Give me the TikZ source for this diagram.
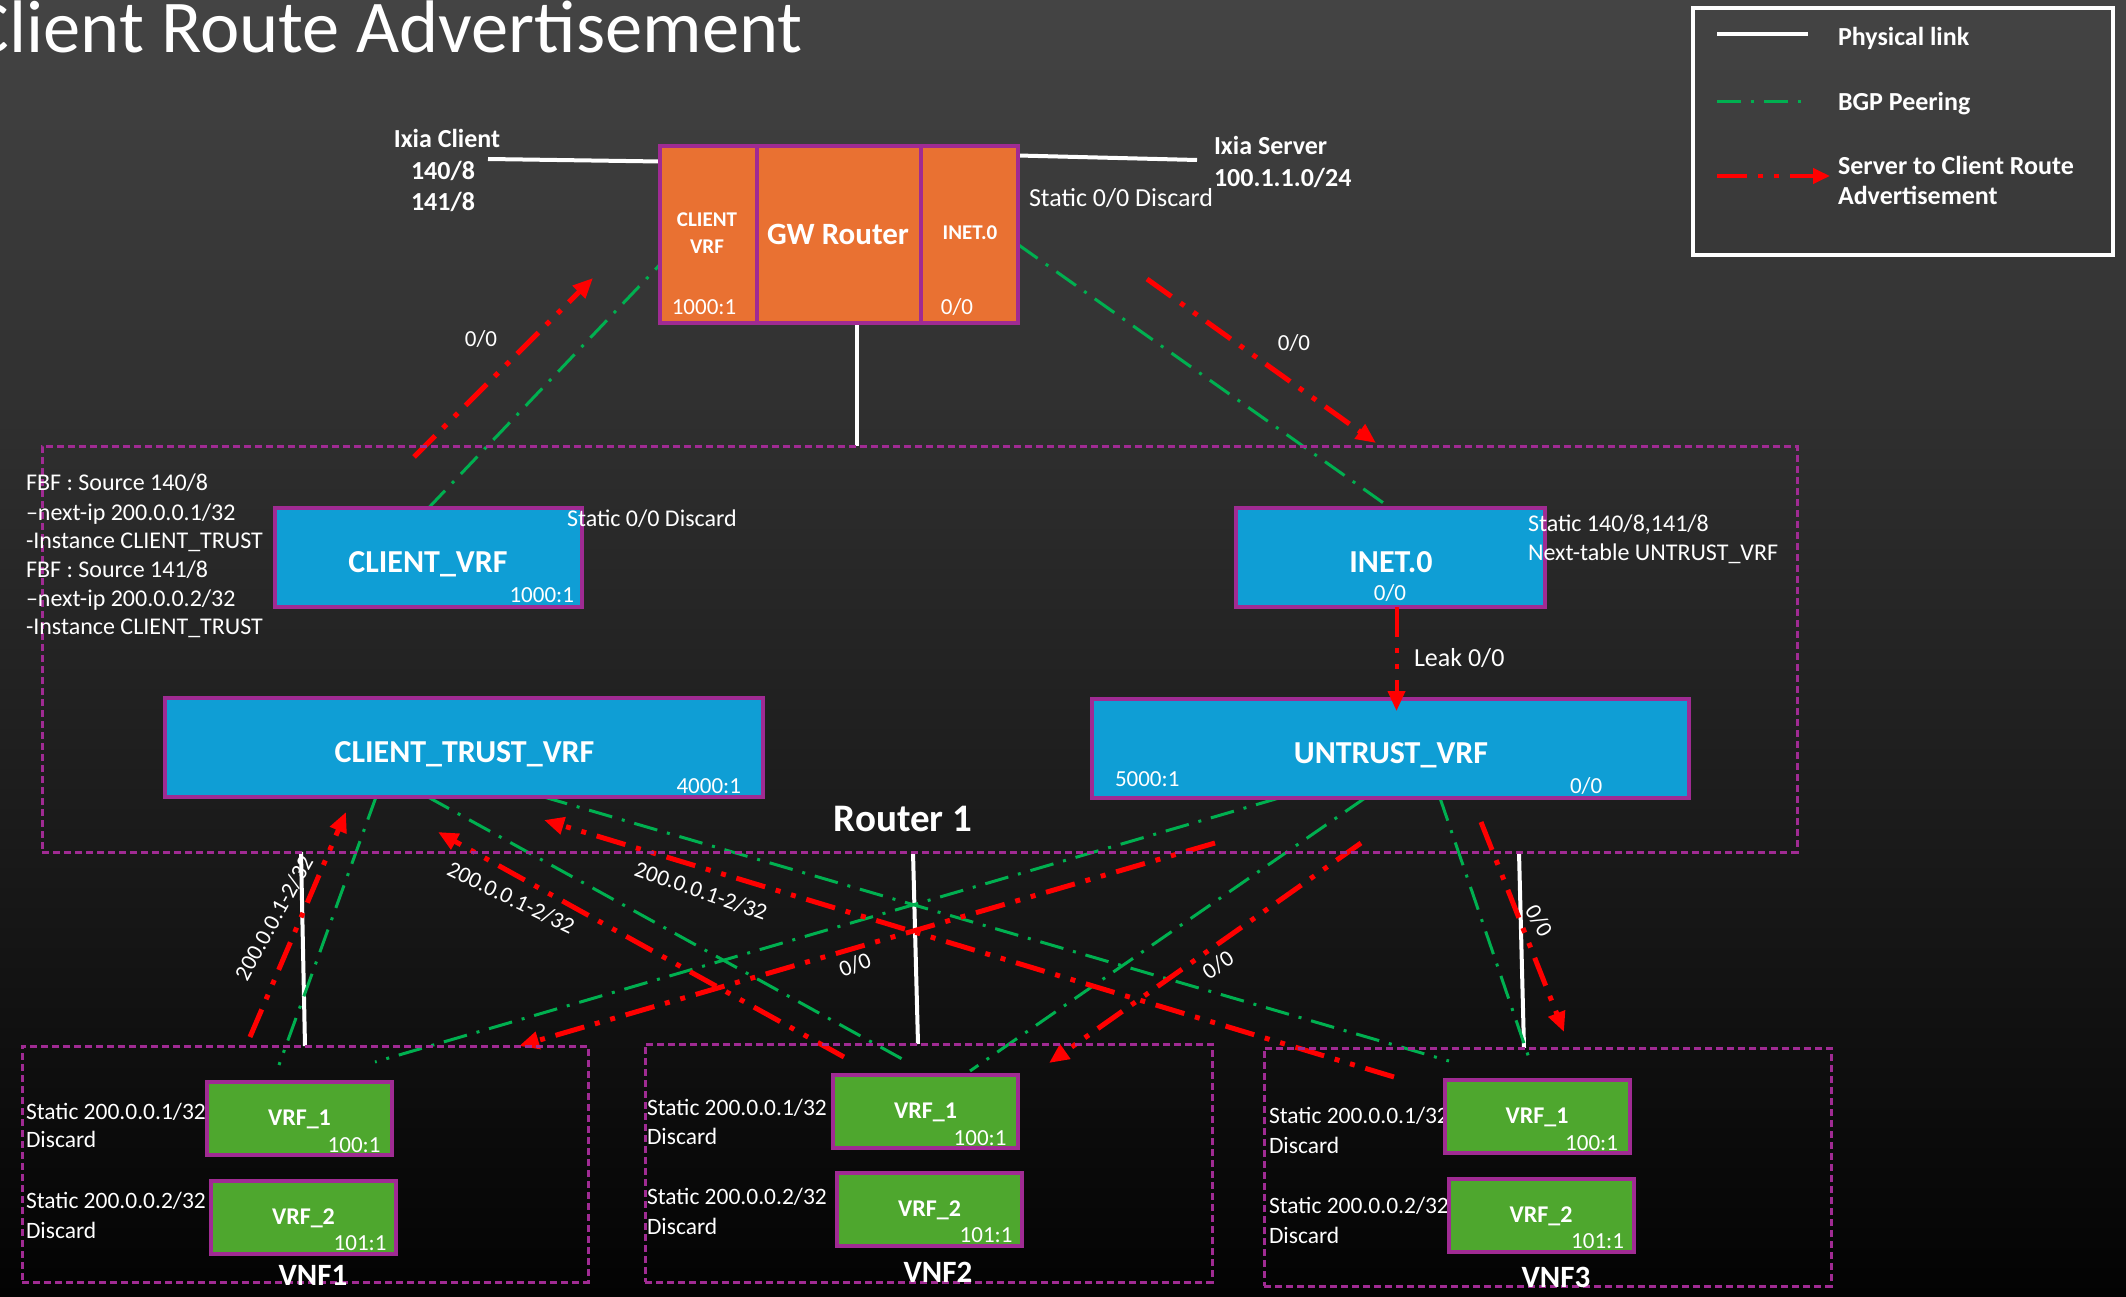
\documentclass[tikz,border=0pt]{standalone}
\usepackage{fontspec}
\setmainfont{Carlito}
\usetikzlibrary{arrows.meta}
\definecolor{gworange}{HTML}{E97132}
\definecolor{vrfblue}{HTML}{0F9ED5}
\definecolor{vnfgreen}{HTML}{4EA72E}
\definecolor{rimpurple}{HTML}{A02B93}
\definecolor{bgpgreen}{HTML}{00B050}
\definecolor{bgtop}{RGB}{68,68,68}
\definecolor{bgbottom}{RGB}{3,3,3}
\newcommand\fsz[2]{\fontsize{#1}{#2}\selectfont}
\pgfdeclarelayer{backdrop}
\pgfdeclarelayer{links}
\pgfsetlayers{backdrop,links,main}
\tikzset{
  txt/.style={text=white, inner sep=0pt, outer sep=0pt, font=\fsz{23}{28}},
  boldtxt/.style={txt, font=\bfseries\fsz{26}{31}},
  cell/.style={draw=rimpurple, line width=4pt, inner sep=0pt, outer sep=0pt},
  gwcell/.style={cell, fill=gworange, minimum height=177pt},
  vrfbox/.style={cell, fill=vrfblue, minimum height=99pt},
  vnfbox/.style={cell, fill=vnfgreen, minimum width=185pt, minimum height=73pt},
  zone/.style={draw=rimpurple, line width=3pt, dash pattern=on 7pt off 4pt, inner sep=0pt, outer sep=0pt},
  phys/.style={draw=white, line width=4pt},
  bgp/.style={draw=bgpgreen, line width=3pt, dash pattern=on 24pt off 10pt on 3pt off 10pt},
  adv/.style={draw=red, line width=5pt, dash pattern=on 30pt off 11pt on 5pt off 11pt on 5pt off 11pt, -{Triangle[length=20pt,width=17pt]}},
  boxname/.style={txt, font=\bfseries\fsz{32}{38}},
  vrfname/.style={txt, font=\bfseries\fsz{24}{28}},
  vnfname/.style={txt, font=\bfseries\fsz{31}{36}},
  rd/.style={txt, font=\fsz{23}{28}},
  note/.style={txt, font=\fsz{23.5}{28}, anchor=base west},
}
\begin{document}
\begin{tikzpicture}[x=1pt,y=-1pt]
\useasboundingbox (0,0) rectangle (2126,1297);
\begin{pgfonlayer}{backdrop}
  \shade[top color=bgtop, bottom color=bgbottom] (0,0) rectangle (2126,1297);
\end{pgfonlayer}

% ---------- title ----------
\node[txt, font=\fsz{74.5}{80}, anchor=base west] (title) at (-30,53) {Client Route Advertisement};

% ---------- legend ----------
\node[draw=white, line width=4pt, minimum width=420pt, minimum height=247pt, inner sep=0pt] (legend) at (1903,131.5) {};
\coordinate (legA1) at (1717,34);  \coordinate (legA2) at (1808,34);
\coordinate (legB1) at (1717,102); \coordinate (legB2) at (1808,102);
\coordinate (legC1) at (1717,176); \coordinate (legC2) at (1830,176);
\draw[phys] (legA1) -- (legA2);
\draw[bgp] (legB1) -- (legB2);
\draw[adv, line width=4pt, -{Triangle[length=17pt,width=15pt]}] (legC1) -- (legC2);
\node[boldtxt, anchor=base west] (legAtxt) at (1838,46) {Physical link};
\node[boldtxt, anchor=base west] (legBtxt) at (1838,111) {BGP Peering};
\node[boldtxt, anchor=base west] (legCtxt1) at (1838,175) {Server to Client Route};
\node[boldtxt, anchor=base west] (legCtxt2) at (1838,205) {Advertisement};

% ---------- GW router ----------
\node[gwcell, minimum width=97pt] (gwclient) at (708.5,234.5) {};
\node[gwcell, minimum width=164pt] (gwcore) at (839,234.5) {};
\node[gwcell, minimum width=97pt] (gwinet) at (969.5,234.5) {};
\node[txt, font=\bfseries\fsz{21}{25}, anchor=base] (gwclientname1) at (707,227) {CLIENT};
\node[txt, font=\bfseries\fsz{21}{25}, anchor=base] (gwclientname2) at (707,254) {VRF};
\node[txt, font=\bfseries\fsz{31}{36}, anchor=base] (gwcorename) at (838,245) {GW Router};
\node[txt, font=\bfseries\fsz{21}{25}, anchor=base] (gwinetname) at (970,240) {INET.0};
\node[rd, anchor=base] (gwclientrd) at (704,315) {1000:1};
\node[rd, anchor=base] (gwinetrd) at (957,315) {0/0};

% Ixia endpoints
\node[boldtxt, anchor=base] (ixcname) at (447,148) {Ixia Client};
\node[boldtxt, anchor=base] (ixcnet1) at (443,180) {140/8};
\node[boldtxt, anchor=base] (ixcnet2) at (443,211) {141/8};
\node[boldtxt, anchor=base west] (ixsname) at (1214,155) {Ixia Server};
\node[boldtxt, anchor=base west] (ixsnet) at (1214,187) {100.1.1.0/24};
\coordinate (ixcport) at (488,159);
\coordinate (ixsport) at (1197,160);
\node[txt, font=\fsz{26}{31}, anchor=base west] (gwstatic) at (1029,207) {Static 0/0 Discard};

% ---------- Router 1 ----------
\node[zone, minimum width=1755pt, minimum height=406pt] (r1zone) at (919.5,649) {};
\node[txt, font=\bfseries\fsz{39}{44}, anchor=base] (r1name) at (903,831) {Router 1};

\node[vrfbox, minimum width=307pt] (cvrf) at (428.5,557.5) {};
\node[boxname, anchor=base] (cvrfname) at (428,572) {CLIENT\_VRF};
\node[rd, anchor=base east] (cvrfrd) at (574,602) {1000:1};
\node[txt, font=\fsz{24}{29}, anchor=base west] (cvrfstatic) at (567,526) {Static 0/0 Discard};

\node[vrfbox, minimum width=309pt] (inet) at (1390.5,557.5) {};
\node[boxname, anchor=base] (inetname) at (1391,572) {INET.0};
\node[rd, anchor=base] (inetrd) at (1390,600) {0/0};
\node[txt, font=\fsz{24}{29}, anchor=base west] (inetstatic1) at (1528,531) {Static 140/8,141/8};
\node[txt, font=\fsz{24}{29}, anchor=base west] (inetstatic2) at (1528,560) {Next-table UNTRUST\_VRF};

\node[vrfbox, minimum width=598pt] (ctrust) at (464,747.5) {};
\node[boxname, anchor=base] (ctrustname) at (464.5,762) {CLIENT\_TRUST\_VRF};
\node[rd, anchor=base east] (ctrustrd) at (741,793) {4000:1};

\node[vrfbox, minimum width=597pt] (untrust) at (1390.5,748.5) {};
\node[boxname, anchor=base] (untrustname) at (1391,763) {UNTRUST\_VRF};
\node[rd, anchor=base west] (untrustrd) at (1115,786) {5000:1};
\node[rd, anchor=base west] (untrustdef) at (1570,793) {0/0};

% FBF policy notes
\foreach \i/\y/\t in {1/490/{FBF : Source 140/8}, 2/520/{--next-ip 200.0.0.1/32}, 3/548/{-Instance CLIENT\_TRUST},
                      4/577/{FBF : Source 141/8}, 5/606/{--next-ip 200.0.0.2/32}, 6/634/{-Instance CLIENT\_TRUST}}
  \node[txt, font=\fsz{24}{28}, anchor=base west] (fbf\i) at (26,\y) {\t};

% Leak between INET.0 and UNTRUST_VRF
\draw[adv, line width=4pt] ([xshift=6pt]inet.south) -- ([xshift=6pt,yshift=-12pt]untrust.north);
\node[txt, font=\fsz{26}{31}, anchor=base west] (leaklbl) at (1414,666) {Leak 0/0};

% ---------- VNFs ----------
\node[zone, minimum width=566pt, minimum height=236pt] (vnf1) at (305,1164) {};
\node[zone, minimum width=567pt, minimum height=238pt] (vnf2) at (928.5,1163) {};
\node[zone, minimum width=567pt, minimum height=238pt] (vnf3) at (1547.5,1167) {};
\node[vnfname, anchor=base] (vnf1name) at (313,1285) {VNF1};
\node[vnfname, anchor=base] (vnf2name) at (938,1282) {VNF2};
\node[vnfname, anchor=base] (vnf3name) at (1556,1287) {VNF3};

% static routes (set before the VRF boxes, which cover their last digits)
\foreach \v/\x/\ya/\yb/\yc/\yd in {1/26/1119/1147/1208/1238, 2/647/1115/1144/1204/1234, 3/1269/1123/1153/1213/1243} {
  \node[note] (s\v a) at (\x,\ya) {Static 200.0.0.1/32};
  \node[note] (s\v b) at (\x,\yb) {Discard};
  \node[note] (s\v c) at (\x,\yc) {Static 200.0.0.2/32};
  \node[note] (s\v d) at (\x,\yd) {Discard};
}
\foreach \v/\ax/\ay/\bx/\by in {1/299.5/1118.5/303.5/1217, 2/925.5/1111/929.5/1209, 3/1537/1116.5/1541/1215.5} {
  \node[vnfbox] (v\v a) at (\ax,\ay) {};
  \node[vrfname, anchor=base] (v\v aname) at ([shift={(0,7)}]v\v a.center) {VRF\_1};
  \node[rd, anchor=base east] (v\v ard) at ([shift={(81,34)}]v\v a.center) {100:1};
  \node[vnfbox] (v\v b) at (\bx,\by) {};
  \node[vrfname, anchor=base] (v\v bname) at ([shift={(0,7)}]v\v b.center) {VRF\_2};
  \node[rd, anchor=base east] (v\v brd) at ([shift={(83,33)}]v\v b.center) {101:1};
}

% ---------- free ends of the links ----------
\coordinate (gwadvL) at (414,457);   \coordinate (gwadvLtip) at (593,278);
\coordinate (gwadvR) at (1147,279);  \coordinate (gwadvRtip) at (1376,443);
\coordinate (v1port) at (305,1046);  \coordinate (v2port) at (918,1044);  \coordinate (v3port) at (1524,1048);
\coordinate (v1bgpA) at (279,1065);  \coordinate (v2bgpB) at (904,1060);  \coordinate (v3bgpC) at (1449,1061);
\coordinate (v1bgpD) at (375,1062);  \coordinate (v2bgpE) at (970,1071);  \coordinate (v3bgpF) at (1530,1061);
\coordinate (v1advA) at (250,1037);  \coordinate (ctadvA) at (346,812);
\coordinate (v2advB) at (844,1057);  \coordinate (ctadvB) at (438,832);
\coordinate (v3advC) at (1394,1077); \coordinate (ctadvC) at (544,820);
\coordinate (utadvD) at (1215,843);  \coordinate (v1advD) at (519,1046);
\coordinate (utadvE) at (1361,843);  \coordinate (v2advE) at (1049,1063);
\coordinate (utadvF) at (1481,822);  \coordinate (v3advF) at (1564,1032);

\begin{pgfonlayer}{links}
  % physical links
  \draw[phys] (ixcport) -- ([yshift=73pt]gwclient.west);
  \draw[phys] ([yshift=79pt]gwinet.east) -- (ixsport);
  \draw[phys] ([xshift=18pt]gwcore.south) -- ([xshift=18pt]gwcore.south |- r1zone.north);
  \draw[phys] ([xshift=-4pt]r1zone.south -| v1port) -- (v1port);
  \draw[phys] ([xshift=-5pt]r1zone.south -| v2port) -- (v2port);
  \draw[phys] ([xshift=-5pt]r1zone.south -| v3port) -- (v3port);
  % BGP peerings
  \draw[bgp] (cvrf.north) -- ([yshift=-30pt]gwclient.west);
  \draw[bgp] ([yshift=-10pt]gwinet.east) -- (inet.north);
  \draw[bgp] ([xshift=-88pt]ctrust.south) -- (v1bgpA);
  \draw[bgp] ([xshift=-36pt]ctrust.south) -- (v2bgpB);
  \draw[bgp] ([xshift=80pt]ctrust.south) -- (v3bgpC);
  \draw[bgp] ([xshift=-111.5pt]untrust.south) -- (v1bgpD);
  \draw[bgp] ([xshift=-25.5pt]untrust.south) -- (v2bgpE);
  \draw[bgp] ([xshift=49.5pt]untrust.south) -- (v3bgpF);
  % route advertisements
  \draw[adv] (gwadvL) -- (gwadvLtip);
  \draw[adv] (gwadvR) -- (gwadvRtip);
  \draw[adv] (v1advA) -- (ctadvA);
  \draw[adv] (v2advB) -- (ctadvB);
  \draw[adv] (v3advC) -- (ctadvC);
  \draw[adv] (utadvD) -- (v1advD);
  \draw[adv] (utadvE) -- (v2advE);
  \draw[adv] (utadvF) -- (v3advF);
\end{pgfonlayer}

% link labels
\node[txt] (lblgwL) at (481,339) {0/0};
\node[txt] (lblgwR) at (1294,343) {0/0};
\node[txt, rotate=61] (lblA) at (274,918) {200.0.0.1-2/32};
\node[txt, rotate=-26] (lblB) at (511,898) {200.0.0.1-2/32};
\node[txt, rotate=-19] (lblC) at (701,891) {200.0.0.1-2/32};
\node[txt, rotate=22] (lblD) at (855,965) {0/0};
\node[txt, rotate=34] (lblE) at (1218,965) {0/0};
\node[txt, rotate=-60] (lblF) at (1539,921) {0/0};
\end{tikzpicture}
\end{document}
